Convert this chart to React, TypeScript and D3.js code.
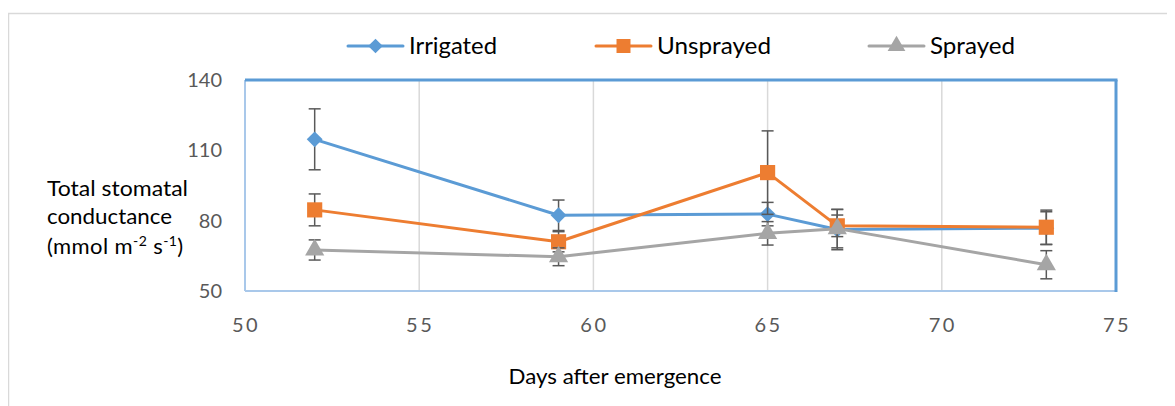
import React from "react";
import * as d3 from "d3";

const days = [52, 59, 65, 67, 73];
const irrigated = [114.7, 82.3, 82.8, 76.2, 76.8];
const irrigatedErr = [13, 6.5, 5, 8.6, 7];
const unsprayed = [84.6, 71.0, 100.5, 77.8, 77.2];
const unsprayedErr = [6.8, 4.3, 17.8, 4.6, 7.3];
const sprayed = [67.5, 64.6, 74.6, 76.6, 61.2];
const sprayedErr = [4.3, 3.8, 5, 8.2, 6];
const xTicks = [50, 55, 60, 65, 70, 75];
const yTicks = [50, 80, 110, 140];
const seriesNames = ["Irrigated", "Unsprayed", "Sprayed"];

const FONT = "Lato, 'Open Sans', sans-serif";

export default function App() {
  const left = 245, right = 1116, top = 80, bottom = 291;
  const x = d3.scaleLinear().domain([50, 75]).range([left, right]);
  const y = d3.scaleLinear().domain([50, 140]).range([bottom, top]);
  const line = d3.line<[number, number]>().x(d => x(d[0])).y(d => y(d[1]));

  const series = [
    { name: seriesNames[0], vals: irrigated, err: irrigatedErr, color: "#5B9BD5", shape: d3.symbolDiamond2, size: 160 },
    { name: seriesNames[1], vals: unsprayed, err: unsprayedErr, color: "#ED7D31", shape: d3.symbolSquare, size: 230 },
    { name: seriesNames[2], vals: sprayed, err: sprayedErr, color: "#A5A5A5", shape: d3.symbolTriangle, size: 160 },
  ];

  const marker = (shape: any, size: number, cx: number, cy: number, color: string, key: any) => (
    <path key={key} d={d3.symbol().type(shape).size(size)() as string} transform={`translate(${cx},${cy})`} fill={color} />
  );

  const legendPos = [
    { lx: 348, tx: 409, w: 88 },
    { lx: 596, tx: 657, w: 114 },
    { lx: 869, tx: 930, w: 85 },
  ];

  return (
    <svg width={1167} height={398} style={{ display: "block" }}>
      <g transform="translate(-8,-8)">
        <rect x={8.5} y={13.5} width={1200} height={420} fill="#fff" stroke="#D9D9D9" strokeWidth={1.5} />
        {/* gridlines */}
        {xTicks.slice(1, -1).map(t => (
          <line key={t} x1={x(t)} x2={x(t)} y1={top} y2={bottom} stroke="#D9D9D9" strokeWidth={1.5} />
        ))}
        {/* plot border */}
        <line x1={left} x2={left} y1={top} y2={bottom} stroke="#A9C8EA" strokeWidth={2} />
        <line x1={left} x2={right} y1={bottom} y2={bottom} stroke="#A9C8EA" strokeWidth={2} />
        <line x1={left} x2={right + 1.5} y1={top} y2={top} stroke="#5B9BD5" strokeWidth={3} />
        <line x1={right} x2={right} y1={top} y2={bottom + 1} stroke="#5B9BD5" strokeWidth={3} />
        {/* y tick labels */}
        {yTicks.map(t => (
          <text key={t} x={222} y={y(t)} dy="0.35em" textAnchor="end" fontFamily={FONT} fontSize={20} fill="#595959">{t}</text>
        ))}
        {/* x tick labels */}
        {xTicks.map(t => (
          <text key={t} x={x(t) + 1} y={325} dy="0.35em" textAnchor="middle" fontFamily={FONT} fontSize={20} letterSpacing={2.5} fill="#595959">{t}</text>
        ))}
        {/* series */}
        {series.map((s, si) => {
          const pts: [number, number][] = days.map((d, i) => [d, s.vals[i]]);
          return (
            <g key={si}>
              {days.map((d, i) => {
                const cx = x(d);
                const y1 = y(s.vals[i] + s.err[i]);
                const y2 = y(s.vals[i] - s.err[i]);
                return (
                  <g key={i} stroke="#595959" strokeWidth={1.5}>
                    <line x1={cx} x2={cx} y1={y1} y2={y2} />
                    <line x1={cx - 6} x2={cx + 6} y1={y1} y2={y1} />
                    <line x1={cx - 6} x2={cx + 6} y1={y2} y2={y2} />
                  </g>
                );
              })}
              <path d={line(pts) as string} fill="none" stroke={s.color} strokeWidth={3} strokeLinejoin="round" />
              {pts.map((p, i) => marker(s.shape, s.size, x(p[0]), y(p[1]), s.color, i))}
            </g>
          );
        })}
        {/* legend */}
        {series.map((s, si) => {
          const lp = legendPos[si];
          return (
            <g key={si}>
              <line x1={lp.lx} x2={lp.lx + 55} y1={46} y2={46} stroke={s.color} strokeWidth={3} strokeLinecap="round" />
              {marker(s.shape, s.size * 0.85, lp.lx + 27.5, 46, s.color, "m")}
              <text x={lp.tx} y={46} dy="0.35em" fontFamily={FONT} fontSize={23} textLength={lp.w} lengthAdjust="spacingAndGlyphs" fill="#000">{s.name}</text>
            </g>
          );
        })}
        {/* y axis title */}
        <g fontFamily={FONT} fontSize={21} fill="#000">
          <text x={47} y={189} dy="0.35em" textLength={141} lengthAdjust="spacingAndGlyphs">Total stomatal</text>
          <text x={47} y={217} dy="0.35em" textLength={125} lengthAdjust="spacingAndGlyphs">conductance</text>
          <text x={47} y={246} dy="0.35em" fontSize={22} letterSpacing={0.4}>
            (mmol m<tspan fontSize={14} dy="-8">-2</tspan><tspan dy="8"> s</tspan><tspan fontSize={14} dy="-8">-1</tspan><tspan dy="8">)</tspan>
          </text>
        </g>
        {/* x axis title */}
        <text x={615} y={377} dy="0.35em" textAnchor="middle" fontFamily={FONT} fontSize={21} textLength={213} lengthAdjust="spacingAndGlyphs" fill="#000">Days after emergence</text>
      </g>
    </svg>
  );
}
